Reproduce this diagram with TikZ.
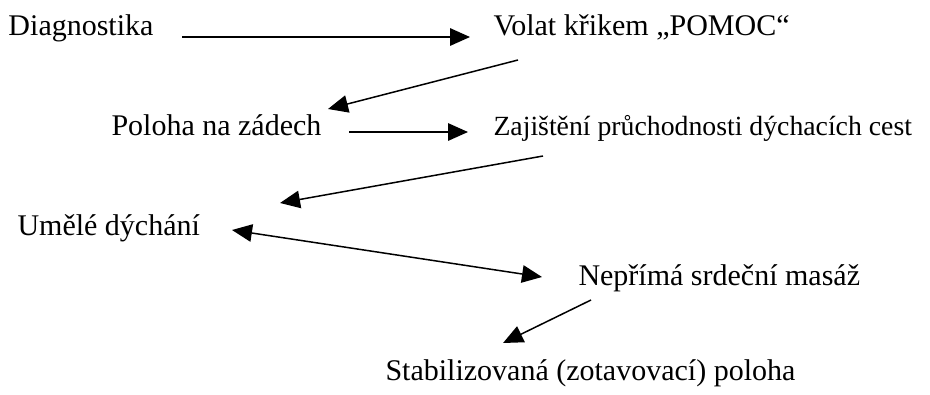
\documentclass[tikz,border=0pt]{standalone}
\usepackage{fontspec}
\setmainfont{Liberation Serif}
\usetikzlibrary{arrows.meta}
\tikzset{krok/.style={anchor=base west,inner sep=0pt,font=\fontsize{12}{14}\selectfont},
  sipka/.style={line width=0.6pt,-{Triangle[length=8pt,width=7pt]}}}

\begin{document}
\begin{tikzpicture}[x=0.4pt,y=-0.4pt]
            \useasboundingbox (0,0) rectangle (930,394);
            % kroky
            \node[krok] (diag) at (8,35) {Diagnostika};
            \node[krok] (volat) at (493,35) {Volat křikem „POMOC“};
            \node[krok] (poloha) at (111,135) {Poloha na zádech};
            \node[krok,font=\fontsize{11.1}{14}\selectfont] (cesty) at (493,135) {Zajištění průchodnosti dýchacích cest};
            \node[krok] (dychani) at (17,235) {Umělé dýchání};
            \node[krok] (masaz) at (578,285) {Nepřímá srdeční masáž};
            \node[krok] (stab) at (385,380) {Stabilizovaná (zotavovací) poloha};
            % konce sipek
            \coordinate (a1) at (182,37); \coordinate (b1) at (470,37);
            \coordinate (a2) at (518,60); \coordinate (b2) at (328,109);
            \coordinate (a3) at (349,132); \coordinate (b3) at (468,132);
            \coordinate (a4) at (543,156); \coordinate (b4) at (280,203);
            \coordinate (a5) at (232,230); \coordinate (b5) at (542,277);
            \coordinate (a6) at (591,300); \coordinate (b6) at (503,343);
            \draw[sipka] (a1) -- (b1);
            \draw[sipka] (a2) -- (b2);
            \draw[sipka] (a3) -- (b3);
            \draw[sipka] (a4) -- (b4);
            \draw[sipka,{Triangle[length=8pt,width=7pt]}-{Triangle[length=8pt,width=7pt]}] (a5) -- (b5);
            \draw[sipka] (a6) -- (b6);
        \end{tikzpicture}
\end{document}
